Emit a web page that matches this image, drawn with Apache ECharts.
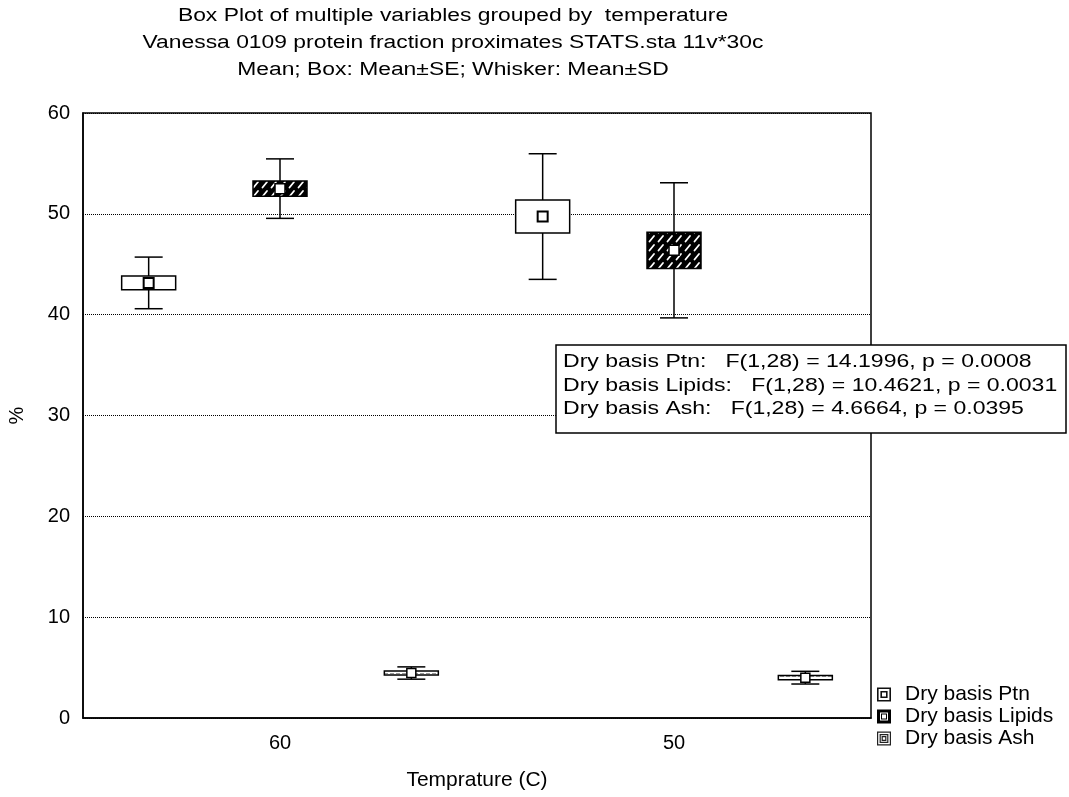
<!DOCTYPE html>
<html>
<head>
<meta charset="utf-8">
<script src="https://cdn.jsdelivr.net/npm/echarts@6/dist/echarts.min.js"></script>
<style>
  html, body { margin: 0; padding: 0; background: #fff; }
  #chart { width: 1069px; height: 797px; }
</style>
</head>
<body>
<div id="chart"></div>
<script>
// Temperature groups on the x axis
const temps = ['60', '50'];

// Dry basis protein: mean, standard error, standard deviation
const ptnMean = [43.15, 49.73];
const ptnSE = [0.69, 1.63];
const ptnSD = [2.56, 6.23];

// Dry basis lipids
const lipidMean = [52.5, 46.38];
const lipidSE = [0.75, 1.8];
const lipidSD = [2.95, 6.7];

// Dry basis ash
const ashMean = [4.46, 4.0];
const ashSE = [0.2, 0.21];
const ashSD = [0.61, 0.63];

const seriesNames = ['Dry basis Ptn', 'Dry basis Lipids', 'Dry basis Ash'];
const yTicks = [0, 10, 20, 30, 40, 50, 60];

const titleLines = [
  'Box Plot of multiple variables grouped by  temperature',
  'Vanessa 0109 protein fraction proximates STATS.sta 11v*30c',
  'Mean; Box: Mean\u00b1SE; Whisker: Mean\u00b1SD'
];
const anovaLines = [
  'Dry basis Ptn:   F(1,28) = 14.1996, p = 0.0008',
  'Dry basis Lipids:   F(1,28) = 10.4621, p = 0.0031',
  'Dry basis Ash:   F(1,28) = 4.6664, p = 0.0395'
];

const FONT = "'Liberation Sans', Arial, Helvetica, sans-serif";

// Hatched black fill used for the lipid boxes
function lipidPattern() {
  const c = document.createElement('canvas');
  c.width = 9; c.height = 9;
  const ctx = c.getContext('2d');
  ctx.fillStyle = '#000';
  ctx.fillRect(0, 0, 9, 9);
  ctx.strokeStyle = '#fff';
  ctx.lineWidth = 1.8;
  ctx.lineCap = 'round';
  ctx.beginPath();
  ctx.moveTo(1.5, 7.5);
  ctx.lineTo(6, 2);
  ctx.stroke();
  return c;
}

// Light dashed fill used for the ash boxes
function ashPattern() {
  const c = document.createElement('canvas');
  c.width = 6; c.height = 3;
  const ctx = c.getContext('2d');
  ctx.fillStyle = '#fff';
  ctx.fillRect(0, 0, 6, 3);
  ctx.fillStyle = '#9a9a9a';
  ctx.fillRect(0, 1, 4, 1);
  return c;
}

function toData(mean, se, sd) {
  return mean.map((m, i) => [i, m, se[i], sd[i]]);
}

// One box per group: whisker = mean ± SD, box = mean ± SE, square = mean
function makeRender(slot, boxFill, meanSize, meanLine) {
  return function (params, api) {
    const idx = api.value(0);
    const m = api.value(1), se = api.value(2), sd = api.value(3);
    const band = api.size([1, 0])[0];
    const base = api.coord([idx, m]);
    const cx = base[0] + slot * band / 3;
    const yM = base[1];
    const yBt = api.coord([idx, m + se])[1];
    const yBb = api.coord([idx, m - se])[1];
    const yWt = api.coord([idx, m + sd])[1];
    const yWb = api.coord([idx, m - sd])[1];
    const bw = 54, cw = 28;
    const line = { stroke: '#000', lineWidth: 1.5 };
    return {
      type: 'group',
      children: [
        { type: 'line', shape: { x1: cx, y1: yWt, x2: cx, y2: yWb }, style: line },
        { type: 'line', shape: { x1: cx - cw / 2, y1: yWt, x2: cx + cw / 2, y2: yWt }, style: line },
        { type: 'line', shape: { x1: cx - cw / 2, y1: yWb, x2: cx + cw / 2, y2: yWb }, style: line },
        { type: 'rect', shape: { x: cx - bw / 2, y: yBt, width: bw, height: yBb - yBt },
          style: { fill: boxFill, stroke: '#000', lineWidth: 1.5 } },
        { type: 'rect', shape: { x: cx - meanSize / 2, y: yM - meanSize / 2, width: meanSize, height: meanSize },
          style: { fill: '#fff', stroke: '#000', lineWidth: meanLine } }
      ]
    };
  };
}

const iconFrames = 'path://M0,0H14V14H0Z M1.6,12.4H12.4V1.6H1.6Z M3.4,3.4H10.6V10.6H3.4Z M5,9H9V5H5Z';
const iconLipid = 'path://M0,0H14V14H0Z M3,11H11V3H3Z M4,4H10V10H4Z M5,9H9V5H5Z';
const iconAsh = 'path://M0,0H14V14H0Z M1.2,12.8H12.8V1.2H1.2Z M2.6,2.6H11.4V11.4H2.6Z M3.8,10.2H10.2V3.8H3.8Z M4.6,4.6H9.4V9.4H4.6Z M5.8,8.2H8.2V5.8H5.8Z';

const chart = echarts.init(document.getElementById('chart'), null, { renderer: 'canvas' });

const graphics = [];
titleLines.forEach((t, i) => {
  graphics.push({
    type: 'text', x: 453, y: 16 + i * 27, scaleX: 1.27, z: 10,
    style: { text: t, fill: '#000', fontSize: 18, fontFamily: FONT,
      textAlign: 'center', textVerticalAlign: 'middle', align: 'center', verticalAlign: 'middle' }
  });
});
graphics.push({
  type: 'rect', z: 20,
  shape: { x: 556, y: 345, width: 510, height: 88 },
  style: { fill: '#fff', stroke: '#000', lineWidth: 1.5 }
});
anovaLines.forEach((t, i) => {
  graphics.push({
    type: 'text', x: 563, y: 362 + i * 23.5, scaleX: 1.245, z: 21,
    style: { text: t, fill: '#000', fontSize: 18.5, fontFamily: FONT,
      textAlign: 'left', textVerticalAlign: 'middle', align: 'left', verticalAlign: 'middle' }
  });
});

chart.setOption({
  animation: false,
  backgroundColor: '#fff',
  textStyle: { fontFamily: FONT, color: '#000' },
  grid: {
    left: 83, right: 198, top: 113, bottom: 79,
    outerBoundsMode: 'none', containLabel: false,
    show: true, borderColor: '#000', borderWidth: 1.5, backgroundColor: 'transparent'
  },
  legend: {
    orient: 'vertical', left: 877, top: 684,
    itemWidth: 14, itemHeight: 14, itemGap: 1, padding: 0,
    selectedMode: false,
    textStyle: { fontSize: 21, fontFamily: FONT, color: '#000', padding: [0, 0, 0, 9] },
    data: [
      { name: seriesNames[0], icon: iconFrames, itemStyle: { color: '#111', borderWidth: 0 } },
      { name: seriesNames[1], icon: iconLipid, itemStyle: { color: '#000', borderWidth: 0 } },
      { name: seriesNames[2], icon: iconAsh, itemStyle: { color: '#222', borderWidth: 0 } }
    ]
  },
  xAxis: {
    type: 'category',
    data: temps,
    name: 'Temprature (C)',
    nameLocation: 'middle',
    nameGap: 52,
    nameTextStyle: { fontSize: 21, fontFamily: FONT, color: '#000' },
    axisLine: { lineStyle: { color: '#000', width: 1.5 } },
    axisTick: { show: false },
    axisLabel: { fontSize: 20, fontFamily: FONT, color: '#000', margin: 15 },
    splitLine: { show: false }
  },
  yAxis: {
    type: 'value',
    min: yTicks[0], max: yTicks[yTicks.length - 1], interval: 10,
    name: '%',
    nameLocation: 'middle',
    nameGap: 56,
    nameRotate: 90,
    nameTextStyle: { fontSize: 20, fontFamily: FONT, color: '#000' },
    axisLine: { show: true, lineStyle: { color: '#000', width: 1.5 } },
    axisTick: { show: false },
    axisLabel: { fontSize: 20, fontFamily: FONT, color: '#000', margin: 13 },
    splitLine: { show: true, lineStyle: { color: '#000', type: [1, 1], width: 1 } }
  },
  graphic: graphics,
  series: [
    {
      name: seriesNames[0], type: 'custom', z: 5,
      itemStyle: { color: '#000' },
      encode: { x: 0, y: 1 },
      renderItem: makeRender(-1, '#fff', 10, 2),
      data: toData(ptnMean, ptnSE, ptnSD)
    },
    {
      name: seriesNames[1], type: 'custom', z: 5,
      itemStyle: { color: '#000' },
      encode: { x: 0, y: 1 },
      renderItem: makeRender(0, { image: lipidPattern(), repeat: 'repeat' }, 10, 1.5),
      data: toData(lipidMean, lipidSE, lipidSD)
    },
    {
      name: seriesNames[2], type: 'custom', z: 5,
      itemStyle: { color: '#000' },
      encode: { x: 0, y: 1 },
      renderItem: makeRender(1, { image: ashPattern(), repeat: 'repeat' }, 9, 1.5),
      data: toData(ashMean, ashSE, ashSD)
    }
  ]
});
</script>
</body>
</html>
